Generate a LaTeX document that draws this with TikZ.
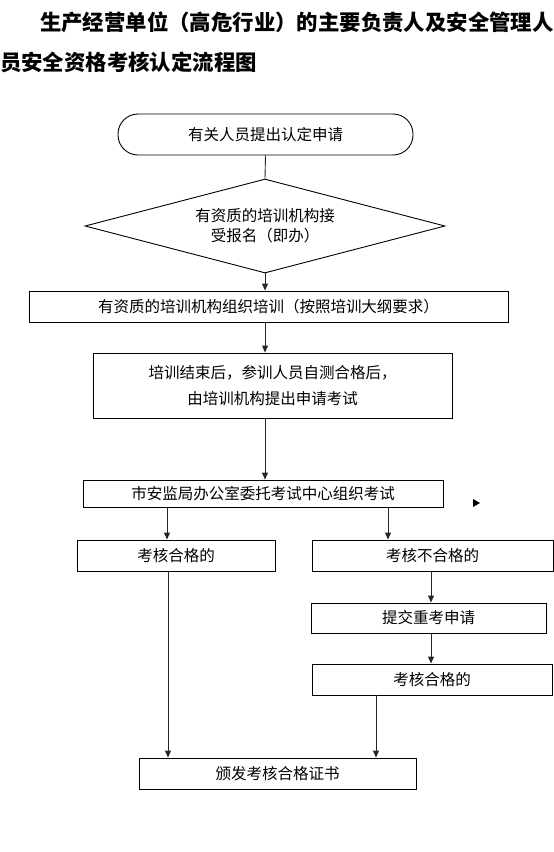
\documentclass[tikz,border=0pt]{standalone}
\usepackage{fontspec}
\newfontfamily\cjk{Noto Sans CJK SC}
\usetikzlibrary{shapes.geometric,arrows.meta}
\begin{document}
\begin{tikzpicture}[x=1pt,y=-1pt,
  box/.style={draw=black,line width=0.9pt,inner sep=0pt,font=\cjk\fontsize{15.5}{26}\selectfont,align=center},
  conn/.style={draw=black!85,line width=0.9pt},
  arr/.style={conn,-{Triangle[length=7pt,width=6pt]}},
  ttl/.style={inner sep=0pt,anchor=west,font=\cjk\bfseries\fontsize{21.4}{24}\selectfont}]
\useasboundingbox (0,0) rectangle (554,852);
\node[ttl] (t1) at (40,22) {生产经营单位（高危行业）的主要负责人及安全管理人};
\node[ttl] (t2) at (0,62) {员安全资格考核认定流程图};
\node[box,rounded corners=20pt,minimum width=295pt,minimum height=41pt] (s) at (265.5,134.5) {有关人员提出认定申请};
\node[box,diamond,shape aspect=3.83,minimum width=360pt,minimum height=94pt,font=\cjk\fontsize{15.5}{20}\selectfont] (d) at (265,226) {有资质的培训机构接\\受报名（即办）};
\node[box,minimum width=479pt,minimum height=31pt] (b2) at (268.5,306.5) {有资质的培训机构组织培训（按照培训大纲要求）};
\node[box,minimum width=359pt,minimum height=65pt] (b3) at (272.5,385.5) {培训结束后，参训人员自测合格后，\\由培训机构提出申请考试};
\node[box,minimum width=360pt,minimum height=27pt] (b4) at (263,493.5) {市安监局办公室委托考试中心组织考试};
\node[box,minimum width=198pt,minimum height=31pt] (b5) at (176,555.5) {考核合格的};
\node[box,minimum width=241pt,minimum height=31pt] (b6) at (432.5,555.5) {考核不合格的};
\node[box,minimum width=235pt,minimum height=30pt] (b7) at (428.5,618) {提交重考申请};
\node[box,minimum width=240pt,minimum height=31pt] (b8) at (432,679.5) {考核合格的};
\node[box,minimum width=277pt,minimum height=31pt] (b9) at (277.5,773.5) {颁发考核合格证书};
\draw[conn] (s.south) -- (d.north);
\draw[arr] (d.south) -- (b2.north -| d.south);
\draw[arr] (b2.south -| d.south) -- (b3.north -| d.south);
\draw[arr] (b3.south -| d.south) -- (b4.north -| d.south);
\draw[arr] (b4.south -| 167,0) -- (b5.north -| 167,0);
\draw[arr] (b4.south -| 388,0) -- (b6.north -| 388,0);
\draw[arr] (b6.south -| 431,0) -- (b7.north -| 431,0);
\draw[arr] (b7.south -| 431,0) -- (b8.north -| 431,0);
\draw[arr] (b5.south -| 168,0) -- (b9.north -| 168,0);
\draw[arr] (b8.south -| 376,0) -- (b9.north -| 376,0);
\fill[black] (473,499) -- (480,503) -- (473,507) -- cycle;
\end{tikzpicture}
\end{document}
